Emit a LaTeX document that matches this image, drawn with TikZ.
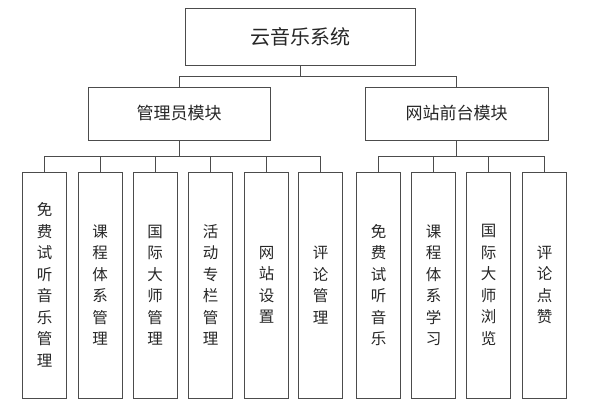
\documentclass[tikz,border=0pt]{standalone}
\usepackage{fontspec}
\newfontfamily\cjk{Noto Sans CJK SC}
\begin{document}
\begin{tikzpicture}[x=1pt,y=-1pt,line width=0.9pt,draw=black!70,
  bx/.style={draw=black!70,rectangle,inner sep=0pt,font=\cjk\fontsize{16}{16}\selectfont,text=black!85},
  ln/.style={draw=black!70}]
\useasboundingbox (0,0) rectangle (600,407);
\node[bx,minimum width=230,minimum height=57,font=\cjk\fontsize{20}{20}\selectfont] (root) at (300,36.5) {云音乐系统};
\node[bx,minimum width=182,minimum height=53,font=\cjk\fontsize{17}{17}\selectfont] (a) at (179,113.5) {管理员模块};
\node[bx,minimum width=183,minimum height=53,font=\cjk\fontsize{17}{17}\selectfont] (b) at (456.5,113.5) {网站前台模块};
\def\leaf#1#2#3{\node[bx,minimum width=44,minimum height=226,align=center,font=\cjk\fontsize{15.5}{21.5}\selectfont] (#1) at (#2,285) {#3};}
\leaf{l1}{44.5}{免\\费\\试\\听\\音\\乐\\管\\理}
\leaf{l2}{100}{课\\程\\体\\系\\管\\理}
\leaf{l3}{155}{国\\际\\大\\师\\管\\理}
\leaf{l4}{210.5}{活\\动\\专\\栏\\管\\理}
\leaf{l5}{266.5}{网\\站\\设\\置}
\leaf{l6}{320.5}{评\\论\\管\\理}
\leaf{r1}{378.5}{免\\费\\试\\听\\音\\乐}
\leaf{r2}{433.5}{课\\程\\体\\系\\学\\习}
\leaf{r3}{488.5}{国\\际\\大\\师\\浏\\览}
\leaf{r4}{544.5}{评\\论\\点\\赞}
\coordinate (ra) at (179,76); \coordinate (rb) at (456.5,76);
\draw[ln] (root.south) -- (300,76) (ra) -- (rb) (ra) -- (a.north) (rb) -- (b.north);
\draw[ln] (a.south) -- (179,156) (b.south) -- (456.5,156);
\draw[ln] (l1.north|-0,156) -- (l6.north|-0,156) (r1.north|-0,156) -- (r4.north|-0,156);
\foreach \n in {l1,l2,l3,l4,l5,l6,r1,r2,r3,r4} \draw[ln] (\n.north) -- (\n.north|-0,156);
\end{tikzpicture}
\end{document}
